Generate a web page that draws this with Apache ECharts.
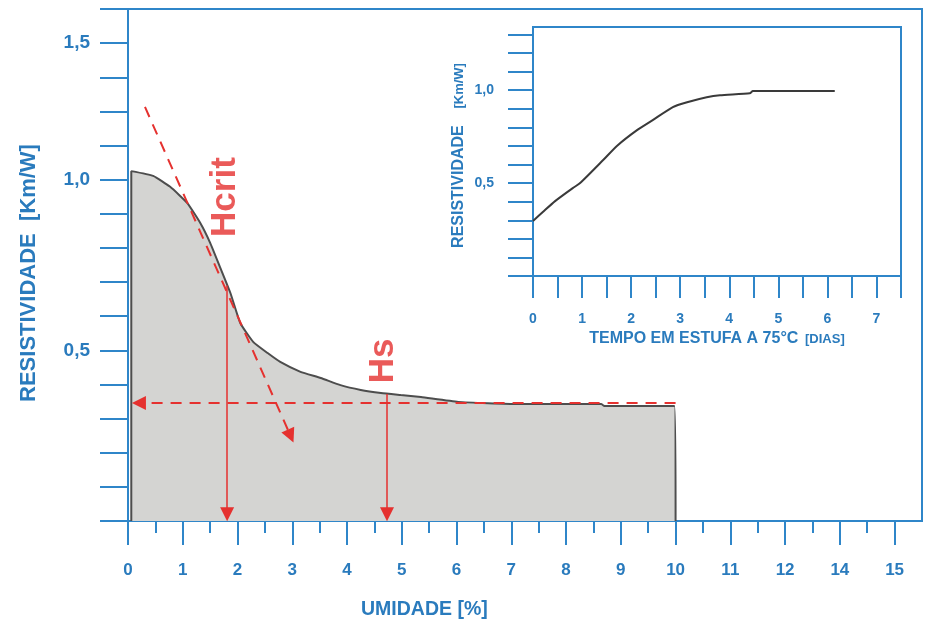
<!DOCTYPE html>
<html>
<head>
<meta charset="utf-8">
<script src="https://cdn.jsdelivr.net/npm/echarts@6/dist/echarts.min.js"></script>
<style>
  html, body { margin: 0; padding: 0; background: #fff; }
  #chart { width: 928px; height: 621px; }
</style>
</head>
<body>
<div id="chart"></div>
<script>
// main curve: resistivity vs humidity
const humidity = [0.06, 0.06, 0.46, 0.77, 1.08, 1.32, 1.50, 1.68, 1.87, 2.05, 2.29, 2.55, 2.78, 3.15, 3.52, 3.88, 4.25, 4.62, 4.98, 5.35, 6.03, 7.12, 8.64, 8.70, 9.98, 10.0];
const resistivity = [0, 1.025, 1.011, 0.979, 0.932, 0.873, 0.815, 0.744, 0.668, 0.580, 0.524, 0.492, 0.466, 0.437, 0.419, 0.398, 0.384, 0.375, 0.369, 0.363, 0.349, 0.343, 0.343, 0.337, 0.337, 0];

// inset: resistivity vs days in oven
const days = [0, 0.2, 0.45, 0.81, 0.96, 1.43, 1.71, 2.12, 2.44, 2.85, 3.14, 3.54, 3.81, 4.42, 4.48, 6.15];
const dryResistivity = [0.296, 0.344, 0.403, 0.473, 0.50, 0.624, 0.70, 0.785, 0.839, 0.909, 0.935, 0.962, 0.973, 0.984, 0.995, 0.995];

// red annotations [from, to]
const tangentLine = [[0.31, 1.213], [2.97, 0.249]];
const hcritArrow = [[1.81, 0.69], [1.81, 0.02]];
const hsArrow = [[4.73, 0.372], [4.73, 0.02]];
const hsLevel = [[10.0, 0.346], [0.20, 0.346]];
const hcritLabelAt = [1.78, 0.949];
const hsLabelAt = [4.67, 0.469];

// tick labels as printed on the original
const xTickAt = [0, 1, 2, 3, 4, 5, 6, 7, 8, 9, 10, 11, 12, 13, 14];
const xTickText = ['0', '1', '2', '3', '4', '5', '6', '7', '8', '9', '10', '11', '12', '14', '15'];
const xMinorAt = [0.5, 1.5, 2.5, 3.5, 4.5, 5.5, 6.5, 7.5, 8.5, 9.5, 10.5, 11.5, 12.5, 13.5];
const yTickAt = [0.5, 1.0, 1.4];
const yTickText = ['0,5', '1,0', '1,5'];
const insetXTickAt = [0, 0.5, 1, 1.5, 2, 2.5, 3, 3.5, 4, 4.5, 5, 5.5, 6, 6.5, 7, 7.5];
const insetXLabelAt = [0, 1, 2, 3, 4, 5, 6, 7];
const insetYTickAt = [0, 0.1, 0.2, 0.3, 0.4, 0.5, 0.6, 0.7, 0.8, 0.9, 1.0, 1.1, 1.2, 1.3];
const insetYLabelAt = [0.5, 1.0];
const insetYLabelText = ['0,5', '1,0'];

const BLUE = '#2f86c9';
const BLUE_TEXT = '#2a7bbd';
const RED = '#e5312f';
const FONT = 'Liberation Sans';

const pickLabel = (at, text) => v => {
  const i = at.findIndex(a => Math.abs(a - v) < 1e-6);
  return i < 0 ? '' : text[i];
};

const blueLine = { lineStyle: { color: BLUE, width: 2 } };

const chart = echarts.init(document.getElementById('chart'));

chart.setOption({
  animation: false,
  backgroundColor: '#fff',
  textStyle: { fontFamily: FONT },
  title: {
    text: 'UMIDADE [%]',
    left: 361,
    top: 600,
    padding: 0,
    textStyle: { color: BLUE_TEXT, fontSize: 19.5, fontWeight: 'bold', fontFamily: FONT }
  },
  grid: [
    { left: 128, top: 9, right: 6, bottom: 100, show: true, borderColor: BLUE, borderWidth: 2, backgroundColor: 'transparent' },
    { left: 533, top: 27, right: 27, bottom: 345, show: true, borderColor: BLUE, borderWidth: 2, backgroundColor: '#fff' }
  ],
  xAxis: [
    {
      type: 'value', gridIndex: 0, position: 'bottom', min: 0, max: 14.5,
      axisLine: { show: true, onZero: false, ...blueLine },
      axisTick: { show: true, length: 24, customValues: xTickAt, ...blueLine },
      axisLabel: {
        customValues: xTickAt, margin: 41, color: BLUE_TEXT, fontSize: 17, fontWeight: 'bold',
        formatter: pickLabel(xTickAt, xTickText)
      },
      splitLine: { show: false }
    },
    {
      type: 'value', gridIndex: 0, position: 'bottom', min: 0, max: 14.5,
      axisLine: { show: false },
      axisTick: { show: true, length: 12, customValues: xMinorAt, ...blueLine },
      axisLabel: { show: false },
      splitLine: { show: false }
    },
    {
      type: 'value', gridIndex: 1, position: 'bottom', min: 0, max: 7.5,
      name: '{a|TEMPO EM ESTUFA A 75°C}  {b|[DIAS]}',
      nameLocation: 'middle', nameGap: 55,
      nameTextStyle: {
        rich: {
          a: { color: BLUE_TEXT, fontSize: 16, fontWeight: 'bold', fontFamily: FONT },
          b: { color: BLUE_TEXT, fontSize: 13, fontWeight: 'bold', fontFamily: FONT }
        }
      },
      axisLine: { show: true, onZero: false, ...blueLine },
      axisTick: { show: true, length: 22, customValues: insetXTickAt, ...blueLine },
      axisLabel: { customValues: insetXLabelAt, margin: 36, color: BLUE_TEXT, fontSize: 14, fontWeight: 'bold' },
      splitLine: { show: false }
    }
  ],
  yAxis: [
    {
      type: 'value', gridIndex: 0, min: 0, max: 1.5, interval: 0.1,
      name: 'RESISTIVIDADE  [Km/W]',
      nameLocation: 'middle', nameRotate: 90, nameGap: 88,
      nameTextStyle: { color: BLUE_TEXT, fontSize: 22, fontWeight: 'bold', fontFamily: FONT, padding: [0, 16, 0, 0] },
      axisLine: { show: true, onZero: false, ...blueLine },
      axisTick: { show: true, length: 28, ...blueLine },
      axisLabel: {
        customValues: yTickAt, margin: 38, color: BLUE_TEXT, fontSize: 19, fontWeight: 'bold',
        formatter: pickLabel(yTickAt, yTickText)
      },
      splitLine: { show: false }
    },
    {
      type: 'value', gridIndex: 1, min: 0, max: 1.34,
      name: '{a|RESISTIVIDADE}     {b|[Km/W]}',
      nameLocation: 'middle', nameRotate: 90, nameGap: 66,
      nameTextStyle: {
        padding: [0, 8, 0, 0],
        rich: {
          a: { color: BLUE_TEXT, fontSize: 16, fontWeight: 'bold', fontFamily: FONT },
          b: { color: BLUE_TEXT, fontSize: 13, fontWeight: 'bold', fontFamily: FONT }
        }
      },
      axisLine: { show: true, onZero: false, ...blueLine },
      axisTick: { show: true, length: 25, customValues: insetYTickAt, ...blueLine },
      axisLabel: {
        customValues: insetYLabelAt, margin: 39, color: BLUE_TEXT, fontSize: 14, fontWeight: 'bold',
        formatter: pickLabel(insetYLabelAt, insetYLabelText)
      },
      splitLine: { show: false }
    }
  ],
  series: [
    {
      name: 'resistividade',
      type: 'line',
      xAxisIndex: 0, yAxisIndex: 0,
      data: humidity.map((h, i) => [h, resistivity[i]]),
      showSymbol: false,
      smooth: 0.15,
      lineStyle: { color: '#4d4d4d', width: 2 },
      areaStyle: { color: '#d4d4d2', opacity: 1 },
      z: 2
    },
    {
      type: 'lines',
      coordinateSystem: 'cartesian2d',
      xAxisIndex: 0, yAxisIndex: 0,
      symbol: ['none', 'triangle'],
      symbolSize: [10, 14],
      clip: false,
      z: 4,
      data: [
        { coords: tangentLine, lineStyle: { color: RED, width: 2, type: [11, 8] } },
        { coords: hsLevel, lineStyle: { color: RED, width: 2, type: [11, 8] } },
        { coords: hcritArrow, lineStyle: { color: RED, width: 1.5, type: 'solid' } },
        { coords: hsArrow, lineStyle: { color: RED, width: 1.5, type: 'solid' } }
      ],
      lineStyle: { color: RED, opacity: 1 }
    },
    {
      type: 'scatter',
      xAxisIndex: 0, yAxisIndex: 0,
      symbolSize: 0,
      z: 5,
      data: [
        { value: hcritLabelAt, name: 'Hcrit' },
        { value: hsLabelAt, name: 'Hs' }
      ],
      label: {
        show: true, position: 'inside', rotate: 90, formatter: '{b}',
        color: RED, fontSize: 35, fontWeight: 'bold', fontFamily: FONT
      }
    },
    {
      name: 'estufa',
      type: 'line',
      xAxisIndex: 2, yAxisIndex: 1,
      data: days.map((d, i) => [d, dryResistivity[i]]),
      showSymbol: false,
      smooth: 0.2,
      lineStyle: { color: '#3a3a3a', width: 2 },
      z: 3
    }
  ]
});
</script>
</body>
</html>
